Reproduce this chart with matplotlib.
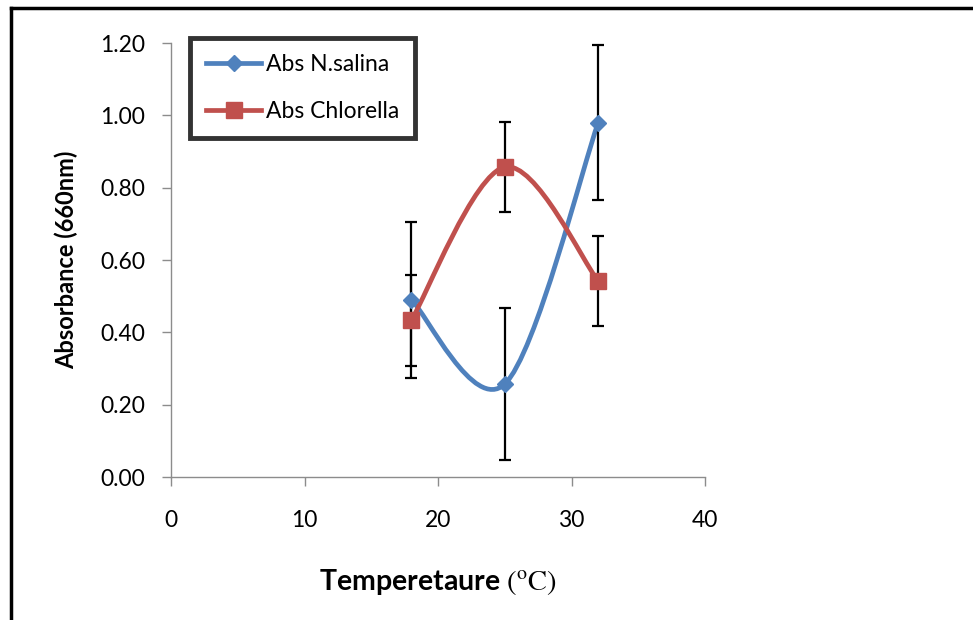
import numpy as np
import matplotlib.pyplot as plt
from matplotlib.path import Path
from matplotlib.patches import PathPatch
from matplotlib.lines import Line2D

plt.rcParams['font.family'] = ['Lato', 'DejaVu Sans']
plt.rcParams['mathtext.fontset'] = 'stix'

temp = [18, 25, 32]
abs_salina = [0.49, 0.257, 0.98]
err_salina = [0.215, 0.21, 0.215]
abs_chlorella = [0.433, 0.857, 0.542]
err_chlorella = [0.126, 0.125, 0.125]

blue = '#4F81BD'
red = '#C0504D'


def smooth_path(x, y):
    # Excel style smoothed line: bezier segments through the points
    p = np.column_stack([x, y]).astype(float)
    n = len(p)
    verts = [p[0]]
    codes = [Path.MOVETO]
    for i in range(n - 1):
        p0 = p[i - 1] if i > 0 else p[i]
        p3 = p[i + 2] if i + 2 < n else p[i + 1]
        c1 = p[i] + (p[i + 1] - p0) / 6
        c2 = p[i + 1] - (p3 - p[i]) / 6
        verts += [c1, c2, p[i + 1]]
        codes += [Path.CURVE4] * 3
    return Path(verts, codes)


fig = plt.figure(figsize=(9.73, 6.2), dpi=100)
ax = fig.add_axes([171 / 973, 1 - 477 / 620, 534 / 973, 434 / 620])

for y, e, c, m, ms in [(abs_salina, err_salina, blue, 'D', 8.5),
                       (abs_chlorella, err_chlorella, red, 's', 11.5)]:
    ax.add_patch(PathPatch(smooth_path(temp, y), fill=False, edgecolor=c,
                           lw=3.4, zorder=2))
    ax.errorbar(temp, y, yerr=e, fmt='none', ecolor='black', elinewidth=1.6,
                capsize=4, capthick=1.6, zorder=3)
    ax.plot(temp, y, ls='none', marker=m, ms=ms, color=c, zorder=4)

ax.set_xlim(0, 40)
ax.set_ylim(0, 1.2)
ax.set_xticks([0, 10, 20, 30, 40])
ax.set_yticks(np.arange(0, 1.21, 0.2))
ax.yaxis.set_major_formatter(plt.FormatStrFormatter('%.2f'))
for s in ['top', 'right']:
    ax.spines[s].set_visible(False)
for s in ['left', 'bottom']:
    ax.spines[s].set_color('#8C8C8C')
    ax.spines[s].set_linewidth(1)
ax.tick_params(colors='#8C8C8C', labelcolor='black', length=6.5, width=1,
               labelsize=16.5)
ax.tick_params(axis='y', pad=12)
ax.tick_params(axis='x', pad=17)

ax.set_ylabel('Absorbance (660nm)', fontsize=17, fontweight='bold', labelpad=16)
ax.set_xlabel(r'Temperetaure $\mathrm{(^oC)}$', fontsize=20.5, fontweight='bold',
              labelpad=26)

handles = [Line2D([], [], color=blue, lw=3.4, marker='D', ms=8.5),
           Line2D([], [], color=red, lw=3.4, marker='s', ms=11.5)]
leg = fig.legend(handles, ['Abs N.salina', 'Abs Chlorella'],
                 loc='upper left', bbox_to_anchor=(190 / 973, 1 - 38 / 620),
                 fontsize=16.5, frameon=True, fancybox=False, handlelength=2.4,
                 labelspacing=1.15, borderpad=0.7, handletextpad=0.2,
                 borderaxespad=0)
leg.get_frame().set_edgecolor('black')
leg.get_frame().set_linewidth(3.5)

# outer chart frame
fig.add_artist(Line2D([11 / 973, 1], [1 - 8 / 620, 1 - 8 / 620],
                      transform=fig.transFigure, color='black', lw=2.5))
fig.add_artist(Line2D([11 / 973, 11 / 973], [0, 1 - 8 / 620],
                      transform=fig.transFigure, color='black', lw=2.5))

fig.savefig('out.png', dpi=100)
